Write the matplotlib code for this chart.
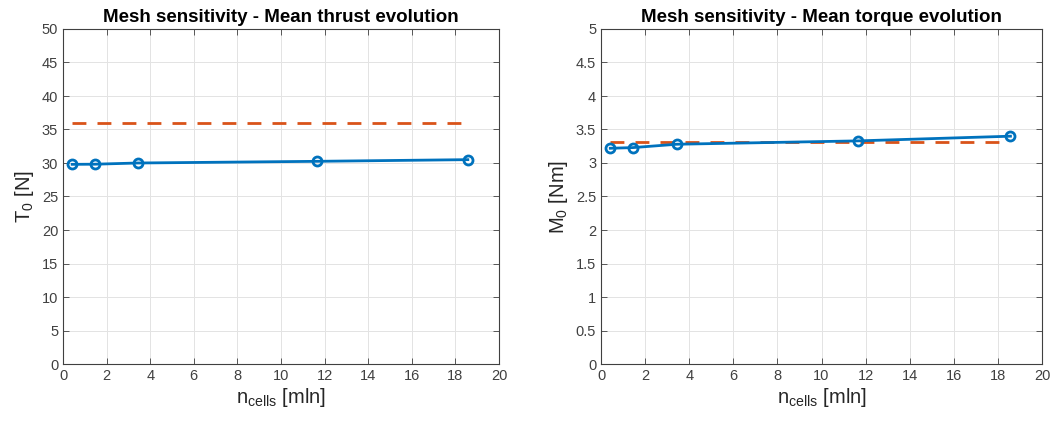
import matplotlib
matplotlib.use("Agg")
import matplotlib.pyplot as plt

plt.rcParams['font.family'] = ['Liberation Sans', 'DejaVu Sans']
plt.rcParams['mathtext.default'] = 'regular'

# mesh sizes (million cells)
n_cells = [0.42, 1.45, 3.44, 11.64, 18.57]
# mean thrust [N]
thrust = [29.8, 29.82, 30.0, 30.25, 30.5]
thrust_ref = 35.9
# mean torque [Nm]
torque = [3.22, 3.23, 3.28, 3.33, 3.40]
torque_ref = 3.32

blue = '#0072BD'
orange = '#D95319'

fig = plt.figure(figsize=(10.52, 4.23), dpi=100)
ax1 = fig.add_axes([63/1052, 1-364/423, 436/1052, 335/423])
ax2 = fig.add_axes([601/1052, 1-364/423, 441/1052, 335/423])

panels = [
    (ax1, thrust, thrust_ref, 'Mesh sensitivity - Mean thrust evolution', 'T$_0$ [N]', 50, 5),
    (ax2, torque, torque_ref, 'Mesh sensitivity - Mean torque evolution', 'M$_0$ [Nm]', 5, 0.5),
]

for ax, vals, ref, title, ylab, ymax, ystep in panels:
    ax.plot([n_cells[0], n_cells[-1]], [ref, ref], '--', color=orange, lw=2, dashes=(5, 4))
    ax.plot(n_cells, vals, '-o', color=blue, lw=2, ms=6.5, mfc='none', mew=2)
    ax.set_xlim(0, 20)
    ax.set_ylim(0, ymax)
    ax.set_xticks(range(0, 21, 2))
    yt = [i * ystep for i in range(11)]
    ax.set_yticks(yt)
    ax.set_yticklabels(['%g' % v for v in yt])
    ax.grid(True, color='#e3e3e3', lw=0.7)
    ax.set_axisbelow(True)
    ax.tick_params(direction='in', top=True, right=True, labelsize=10.5,
                   colors='#404040', length=4, width=0.6)
    for s in ax.spines.values():
        s.set_color('#404040')
        s.set_linewidth(0.8)
    ax.set_title(title, fontsize=13.5, fontweight='bold', pad=5)
    ax.set_xlabel('n$_{cells}$ [mln]', fontsize=14.5, color='#262626', labelpad=2)
    ax.set_ylabel(ylab, fontsize=14.5, color='#262626', labelpad=4)

fig.savefig('out.png', dpi=100)
